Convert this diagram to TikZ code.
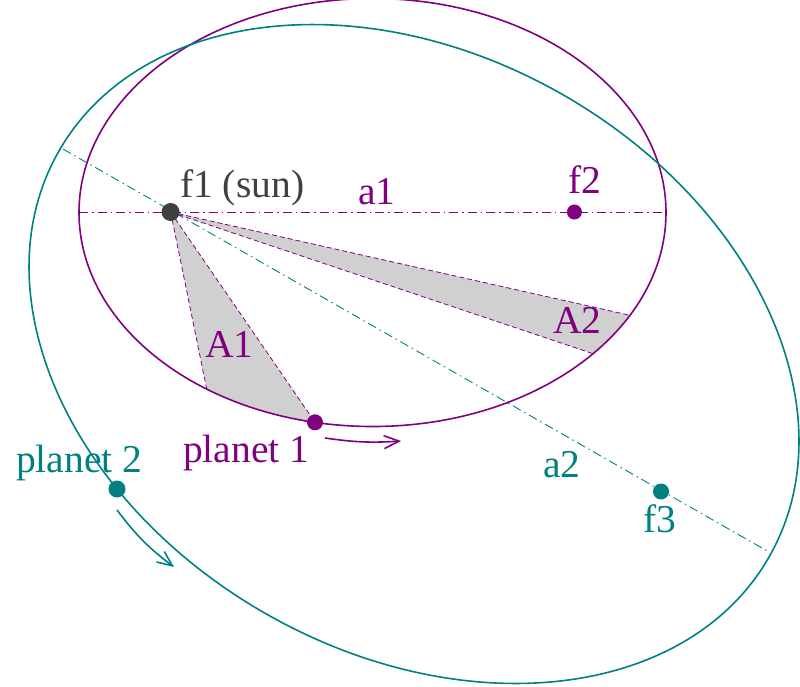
\documentclass[tikz,border=0pt]{standalone}
\usepackage{fontspec}
\setmainfont{Liberation Serif}
\usetikzlibrary{arrows.meta,calc}
\definecolor{kpurple}{RGB}{128,0,128}
\definecolor{kteal}{RGB}{0,128,128}
\definecolor{kgray}{RGB}{208,208,208}
\definecolor{ksun}{RGB}{64,64,64}
\begin{document}
\begin{tikzpicture}[x=1pt,y=-1pt,
  orbit/.style={line width=1.6pt},
  axisline/.style={line width=0.9pt, dash pattern=on 9pt off 4pt on 1.5pt off 4pt},
  sectoredge/.style={kpurple, line width=0.8pt, dash pattern=on 5pt off 3pt},
  sectorfill/.style={fill=kgray},
  dot/.style={circle, fill, inner sep=0pt, minimum size=16pt},
  lbl/.style={inner sep=0pt, anchor=base west, font=\fontsize{39.5}{45}\selectfont},
  motion/.style={line width=1.6pt, -{Straight Barb[length=15pt,width=13pt]}}
]
\useasboundingbox (0,0) rectangle (800,686);

% purple orbit: centre (372.5,212.5), a = 293.5, b = 214
\coordinate (C1) at (372.5,212.5);
\coordinate (F1) at (170.6,212);
\coordinate (F2) at (574.4,212);
\coordinate (V1L) at (79,212);
\coordinate (V1R) at (666,212);
\coordinate (A1a) at (206.7,389);
\coordinate (P1) at (315.0,422.3);
\coordinate (A2a) at (630.0,315.3);
\coordinate (A2b) at (593.0,353.7);

% teal orbit: centre (414,354), a = 409, b = 299, tilted 29.72 deg
\coordinate (C2) at (414,354);
\coordinate (V2L) at (63,149);
\coordinate (V2R) at (769,552);
\coordinate (F3) at (661,491.5);
\coordinate (P2) at (117,489);

% swept areas
\fill[sectorfill] (F1) -- plot[domain=124.4:101.3, samples=30] ({372.5+293.5*cos(\x)},{212.5+214*sin(\x)}) -- cycle;
\fill[sectorfill] (F1) -- plot[domain=28.7:41.3, samples=20] ({372.5+293.5*cos(\x)},{212.5+214*sin(\x)}) -- cycle;
\draw[sectoredge] (F1) -- (A1a);
\draw[sectoredge] (F1) -- (P1);
\draw[sectoredge] (F1) -- (A2a);
\draw[sectoredge] (F1) -- (A2b);

% orbits
\draw[orbit, kpurple] (C1) ellipse [x radius=293.5, y radius=214];
\begin{scope}[shift={(C2)}, rotate=-29.72]
  \draw[orbit, kteal] (0,0) ellipse [x radius=409, y radius=299];
\end{scope}

% major axes
\draw[axisline, kpurple] (V1L) -- (V1R);
\draw[axisline, kteal] (V2L) -- (V2R);

% bodies
\node[dot, fill=ksun, minimum size=18pt] (sun) at (F1) {};
\node[dot, fill=kpurple, minimum size=15pt] (f2) at (F2) {};
\node[dot, fill=kpurple] (planet1) at (P1) {};
\node[dot, fill=kteal] (f3) at (F3) {};
\node[dot, fill=kteal, minimum size=17pt] (planet2) at (P2) {};

% motion arrows
\coordinate (M1s) at (325,438);
\coordinate (M1e) at (401,441);
\draw[motion, kpurple] (M1s) to[bend right=6] (M1e);
\coordinate (M2s) at (117,510);
\coordinate (M2e) at (174,567);
\draw[motion, kteal] (M2s) to[bend right=8] (M2e);

% labels
\node[lbl, text=ksun] (lsun) at (180,197) {f1 (sun)};
\node[lbl, text=kpurple] (la1) at (358,204) {a1};
\node[lbl, text=kpurple] (lf2) at (568,193) {f2};
\node[lbl, text=kpurple] (lA2) at (553,333) {A2};
\node[lbl, text=kpurple] (lA1) at (205,357) {A1};
\node[lbl, text=kpurple] (lp1) at (183,462) {planet 1};
\node[lbl, text=kteal] (lp2) at (16,472) {planet 2};
\node[lbl, text=kteal] (la2) at (543,477) {a2};
\node[lbl, text=kteal] (lf3) at (643,532) {f3};
\end{tikzpicture}
\end{document}
